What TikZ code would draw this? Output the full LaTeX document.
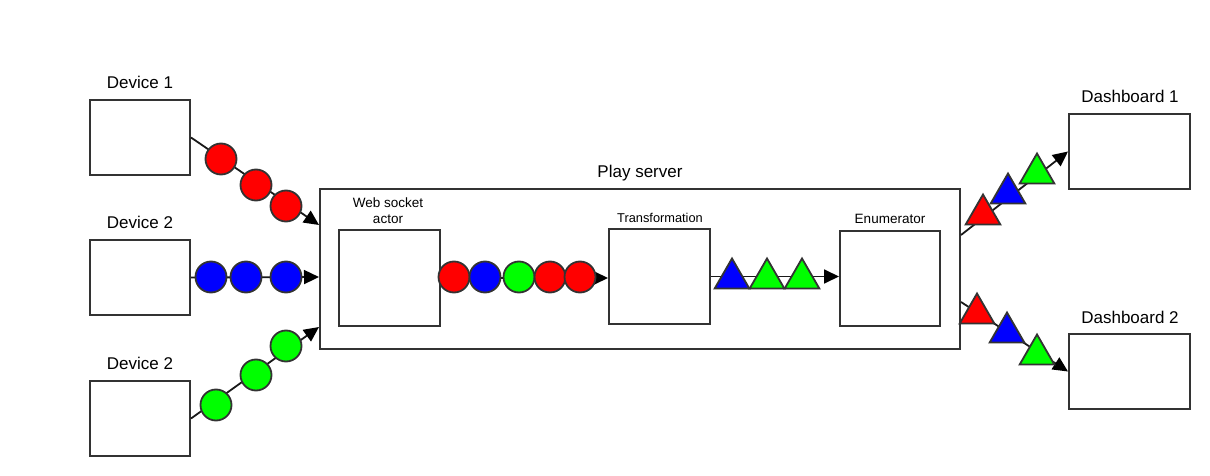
\documentclass[tikz,border=0pt]{standalone}
\usepackage{fontspec}
\setmainfont{Liberation Sans}
\usetikzlibrary{arrows.meta,shapes.geometric}
\definecolor{edge}{HTML}{333333}
\definecolor{mred}{HTML}{FF0000}
\definecolor{mblue}{HTML}{0000FF}
\definecolor{mgreen}{HTML}{00FF00}
\begin{document}
\begin{tikzpicture}[x=1pt,y=-1pt,
  box/.style={draw=edge,line width=2pt,fill=white,inner sep=0pt,minimum width=#1},
  lbl/.style={anchor=base,inner sep=0pt,font=\fontsize{17}{20}\selectfont},
  slbl/.style={anchor=base,inner sep=0pt,font=\fontsize{13.5}{16}\selectfont},
  conn/.style={draw=black!90,line width=1.8pt,-{Triangle[length=15pt,width=14pt,fill=black,color=black]}},
  dot/.style={circle,draw=edge,line width=1.8pt,minimum size=31pt,inner sep=0pt,fill=#1},
  tri/.style={regular polygon,regular polygon sides=3,draw=edge,line width=1.8pt,minimum size=40pt,inner sep=0pt,fill=#1}]
\useasboundingbox (0,0) rectangle (1210,476);

% devices
\node[box=100pt,minimum height=75pt] (d1) at (140,137.5) {};
\node[box=100pt,minimum height=75pt] (d2) at (140,277.5) {};
\node[box=100pt,minimum height=75pt] (d3) at (140,418.5) {};
\node[lbl] (d1l) at (140,89) {Device 1};
\node[lbl] (d2l) at (140,228) {Device 2};
\node[lbl] (d3l) at (140,369) {Device 2};

% play server
\node[box=640pt,minimum height=160pt] (ps) at (640,269) {};
\node[lbl] (psl) at (640,178) {Play server};
\node[box=101pt,minimum height=96pt] (ws) at (389.5,278) {};
\node[slbl] (wsl1) at (388,207) {Web socket};
\node[slbl] (wsl2) at (388,223) {actor};
\node[box=101pt,minimum height=95pt] (tr) at (659.5,276.5) {};
\node[slbl,font=\fontsize{12.8}{15}\selectfont] (trl) at (660,222) {Transformation};
\node[box=100pt,minimum height=95pt] (en) at (890,278.5) {};
\node[slbl] (enl) at (890,223) {Enumerator};

% dashboards
\node[box=121pt,minimum height=75pt] (db1) at (1129.5,151.5) {};
\node[box=121pt,minimum height=75pt] (db2) at (1129.5,371.5) {};
\node[lbl] (db1l) at (1130,103) {Dashboard 1};
\node[lbl] (db2l) at (1130,323) {Dashboard 2};

% connectors
\draw[conn] (d1.east) -- ([yshift=44pt]ps.west);
\draw[conn] (d2.east) -- ([yshift=-8pt]ps.west);
\draw[conn] (d3.east) -- ([yshift=-58pt]ps.west);
\draw[conn] (ws.east) -- (ws.east -| tr.west);
\draw[conn] (tr.east) -- (tr.east -| en.west);
\draw[conn] ([yshift=34pt]ps.east) -- (db1.west);
\draw[conn] ([yshift=-33pt]ps.east) -- (db2.west);

% messages
\node[dot=mred] (r1) at (221,159) {};
\node[dot=mred] (r2) at (256,185) {};
\node[dot=mred] (r3) at (286,206) {};
\node[dot=mblue] (b1) at (211,277) {};
\node[dot=mblue] (b2) at (246,277) {};
\node[dot=mblue] (b3) at (286,277) {};
\node[dot=mgreen] (g1) at (216,405) {};
\node[dot=mgreen] (g2) at (256,375) {};
\node[dot=mgreen] (g3) at (286,346) {};

\node[dot=mred] (m1) at (454,277) {};
\node[dot=mblue] (m2) at (485,277) {};
\node[dot=mgreen] (m3) at (519,277) {};
\node[dot=mred] (m4) at (550,277) {};
\node[dot=mred] (m5) at (580,277) {};

\node[tri=mblue] (t1) at (732,278.5) {};
\node[tri=mgreen] (t2) at (767,278.5) {};
\node[tri=mgreen] (t3) at (802,278.5) {};

\node[tri=mred] (u1) at (983,214.5) {};
\node[tri=mblue] (u2) at (1008,193.5) {};
\node[tri=mgreen] (u3) at (1037,173.5) {};

\node[tri=mred] (v1) at (977,313.5) {};
\node[tri=mblue] (v2) at (1007,332.5) {};
\node[tri=mgreen] (v3) at (1037,354.5) {};
\end{tikzpicture}
\end{document}
